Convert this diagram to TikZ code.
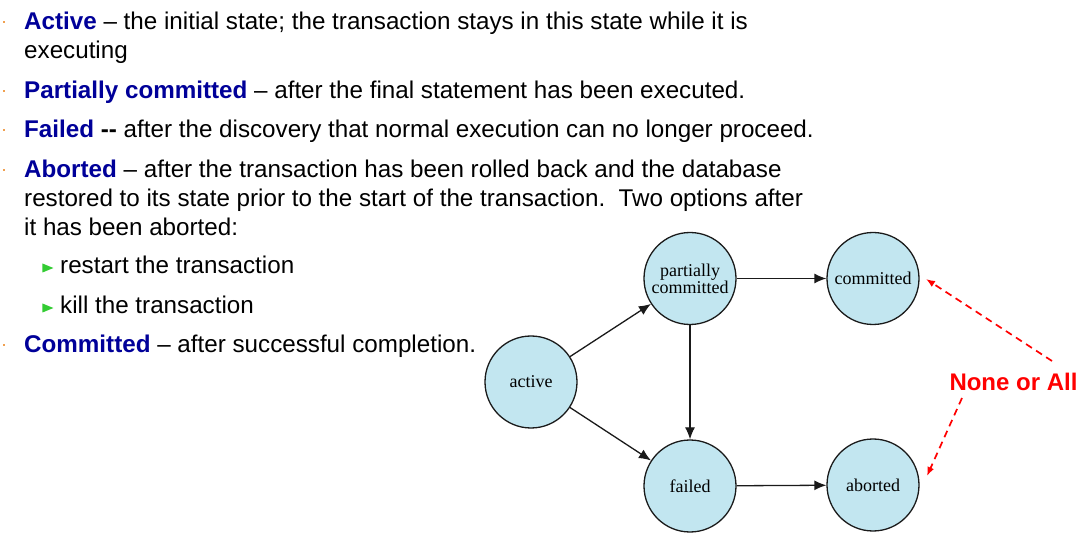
\documentclass[tikz,border=0pt]{standalone}
\usepackage{fontspec}
\setmainfont{Liberation Sans}
\newfontfamily\statefont{Liberation Serif}
\usetikzlibrary{arrows.meta,shapes.geometric}
\definecolor{kwblue}{HTML}{000099}
\definecolor{statefill}{HTML}{C2E6F0}
\definecolor{bulletorange}{HTML}{F0A050}
\definecolor{bulletgreen}{HTML}{33CC33}
\definecolor{ink}{HTML}{1A1A1A}
\begin{document}
\begin{tikzpicture}[x=1pt,y=-1pt,
  txt/.style={anchor=base west,inner sep=0pt,font=\fontsize{24.2}{28}\selectfont},
  state/.style={circle,draw=ink,line width=1.3pt,fill=statefill,minimum size=92pt,inner sep=0pt,align=center,font=\statefont\fontsize{18}{19}\selectfont},
  trans/.style={ink,line width=1.3pt,-{Latex[length=12pt,width=10pt]}},
  hint/.style={red,line width=1.7pt,dash pattern=on 7pt off 5pt,-{Latex[length=9pt,width=7pt]}},
  dotb/.style={fill=bulletorange,inner sep=0pt,minimum size=1.8pt},
  tri/.style={fill=bulletgreen,isosceles triangle,inner sep=0pt,minimum width=9pt,minimum height=5.5pt},
]
\useasboundingbox (0,0) rectangle (1088,545);
\fill[white] (0,0) rectangle (1088,545);
\newcommand{\kwd}[1]{\textcolor{kwblue}{\textbf{#1}}}
% bullets
\foreach \yy [count=\i] in {22,91,130,170,345} {
  \node[dotb] (b\i) at (4,\yy) {};
}
\node[tri] (g1) at (45.5,268) {};
\node[tri] (g2) at (45.5,308) {};
% text lines
\node[txt] (l1) at (24,29.5) {\kwd{Active} – the initial state; the transaction stays in this state while it is};
\node[txt] (l2) at (24,58.5) {executing};
\node[txt] (l3) at (24,98.5) {\kwd{Partially committed} – after the final statement has been executed.};
\node[txt] (l4) at (24,137.5) {\kwd{Failed} \textbf{-{}-} after the discovery that normal execution can no longer proceed.};
\node[txt] (l5) at (24,177.5) {\kwd{Aborted} – after the transaction has been rolled back and the database};
\node[txt] (l6) at (24,206.5) {restored to its state prior to the start of the transaction.\ \ Two options after};
\node[txt] (l7) at (24,235.5) {it has been aborted:};
\node[txt] (l8) at (60,273.5) {restart the transaction};
\node[txt] (l9) at (60,313.5) {kill the transaction};
\node[txt] (l10) at (24,352.5) {\kwd{Committed} – after successful completion.};
% states
\node[state] (act) at (531,382) {active};
\node[state] (pc) at (690,278.5) {partially\\[-2pt]committed};
\node[state] (com) at (873,278.5) {committed};
\node[state] (fail) at (690,486) {failed};
\node[state] (abt) at (873,485) {aborted};
\draw[trans] (act) -- (pc);
\draw[trans] (act) -- (fail);
\draw[trans] (pc) -- (fail);
\draw[trans] (pc) -- (com);
\draw[trans] (fail) -- (abt);
% none or all
\node[red,font=\bfseries\fontsize{24}{26}\selectfont,inner sep=0pt] (na) at (1013.5,382) {None or All};
\coordinate (h1) at (1052,361);
\coordinate (h2) at (962,398);
\coordinate (t1) at (926,279);
\coordinate (t2) at (927,476);
\draw[hint] (h1) -- (t1);
\draw[hint] (h2) -- (t2);
\end{tikzpicture}
\end{document}
